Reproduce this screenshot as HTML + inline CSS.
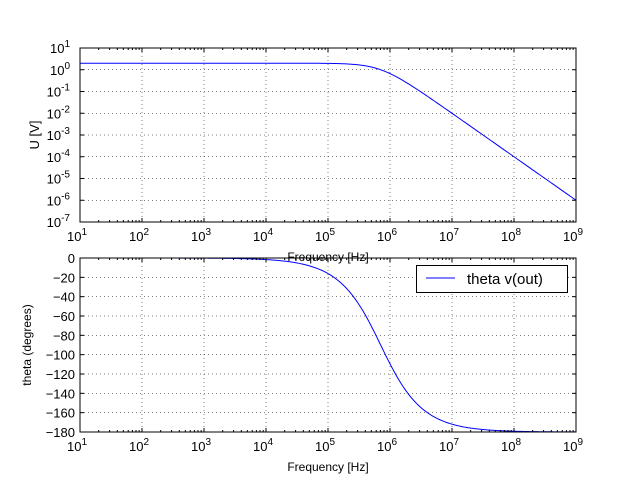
<!DOCTYPE html>
<html><head><meta charset="utf-8"><style>
body{margin:0;background:#fff;}
svg{display:block;font-family:"Liberation Sans","DejaVu Sans",sans-serif;}
</style></head><body>
<svg id="s" width="640" height="480" xmlns="http://www.w3.org/2000/svg"></svg>
<script>
const s=document.getElementById('s');
let h='<rect width="640" height="480" fill="#fff"/>';
const X0=80,X1=576,dx=(X1-X0)/8;
function xf(lf){return X0+(lf-1)*dx;}
const T0=48,T1=222;
const B0=258,B1=432;
function yt(lv){return T1-(lv+7)*(T1-T0)/8;}
function yb(d){return B0+(-d)*(B1-B0)/180;}
for(let i=0;i<=8;i++){const x=xf(1+i);
 h+=`<line x1="${x}" y1="${T0}" x2="${x}" y2="${T1}" stroke="#000" stroke-width="0.5" stroke-dasharray="1,3"/>`;
 h+=`<line x1="${x}" y1="${B0}" x2="${x}" y2="${B1}" stroke="#000" stroke-width="0.5" stroke-dasharray="1,3"/>`;
 h+=`<text x="${x-3}" y="${T1+19}" font-size="13" text-anchor="middle">10<tspan font-size="10" dy="-6">${1+i}</tspan></text>`;
 h+=`<text x="${x-3}" y="${B1+19}" font-size="13" text-anchor="middle">10<tspan font-size="10" dy="-6">${1+i}</tspan></text>`;
}
for(let e=-7;e<=1;e++){const y=yt(e);
 h+=`<line x1="${X0}" y1="${y}" x2="${X1}" y2="${y}" stroke="#000" stroke-width="0.5" stroke-dasharray="1,3"/>`;
 h+=`<text x="${X0-10}" y="${y+5}" font-size="13" text-anchor="end">10<tspan font-size="10" dy="-6">${e}</tspan></text>`;
}
for(let d=0;d>=-180;d-=20){const y=yb(d);
 h+=`<line x1="${X0}" y1="${y}" x2="${X1}" y2="${y}" stroke="#000" stroke-width="0.5" stroke-dasharray="1,3"/>`;
 h+=`<text x="${X0-5}" y="${y+5}" font-size="13" text-anchor="end">${d==0?'0':'\u2212'+(-d)}</text>`;
}
const f0=7.07e5;let p1='',p2='';
for(let i=0;i<=400;i++){const lf=1+8*i/400,f=Math.pow(10,lf),r=f/f0;
 const mag=2/(1+r*r),ph=-2*Math.atan(r)*180/Math.PI;
 p1+=(i?'L':'M')+xf(lf).toFixed(2)+','+yt(Math.log10(mag)).toFixed(2);
 p2+=(i?'L':'M')+xf(lf).toFixed(2)+','+yb(ph).toFixed(2);}
h+=`<path d="${p1}" fill="none" stroke="#00f" stroke-width="1"/>`;
h+=`<path d="${p2}" fill="none" stroke="#00f" stroke-width="1"/>`;
[[T0,T1],[B0,B1]].forEach(([a,b])=>{
 h+=`<rect x="${X0}" y="${a}" width="${X1-X0}" height="${b-a}" fill="none" stroke="#000" stroke-width="1"/>`;
 for(let i=0;i<=8;i++){const x=xf(1+i);h+=`<line x1="${x}" y1="${a}" x2="${x}" y2="${a+4}" stroke="#000"/><line x1="${x}" y1="${b}" x2="${x}" y2="${b-4}" stroke="#000"/>`;
  if(i<8)for(let k=2;k<10;k++){const xm=xf(1+i+Math.log10(k));h+=`<line x1="${xm}" y1="${a}" x2="${xm}" y2="${a+2}" stroke="#000"/><line x1="${xm}" y1="${b}" x2="${xm}" y2="${b-2}" stroke="#000"/>`;}}
});
for(let e=-7;e<=1;e++){const y=yt(e);h+=`<line x1="${X0}" y1="${y}" x2="${X0+4}" y2="${y}" stroke="#000"/><line x1="${X1}" y1="${y}" x2="${X1-4}" y2="${y}" stroke="#000"/>`;}
for(let d=0;d>=-180;d-=20){const y=yb(d);h+=`<line x1="${X0}" y1="${y}" x2="${X0+4}" y2="${y}" stroke="#000"/><line x1="${X1}" y1="${y}" x2="${X1-4}" y2="${y}" stroke="#000"/>`;}
h+=`<text x="328" y="261" font-size="12" text-anchor="middle">Frequency [Hz]</text>`;
h+=`<text x="328" y="471" font-size="12" text-anchor="middle">Frequency [Hz]</text>`;
h+=`<text transform="translate(39,135) rotate(-90)" font-size="13" text-anchor="middle">U [V]</text>`;
h+=`<text transform="translate(31,345) rotate(-90)" font-size="12" text-anchor="middle">theta (degrees)</text>`;
h+=`<rect x="416.5" y="265.5" width="151" height="27" fill="#fff" stroke="#000"/>`;
h+=`<line x1="426" y1="278" x2="455" y2="278" stroke="#00f"/>`;
h+=`<text x="467" y="284" font-size="15">theta v(out)</text>`;
s.innerHTML=h;
</script>
</body></html>
